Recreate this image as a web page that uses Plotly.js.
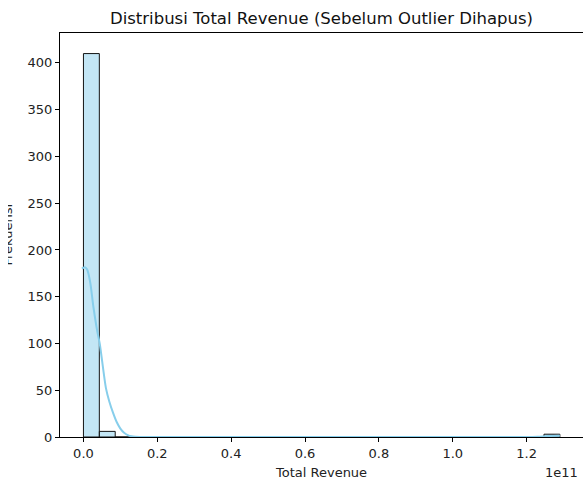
<!DOCTYPE html>
<html>
<head>
<meta charset="utf-8">
<script src="https://cdn.plot.ly/plotly-3.0.1.min.js"></script>
<style>html,body{margin:0;padding:0;background:#fff;}#chart{width:583px;height:481px;}</style>
</head>
<body>
<div id="chart"></div>
<script>
// Values in units of 1e11 (Total Revenue)
const binStart = 0.0;
const binEnd = 1.29;
const binCounts = [410, 6, 0, 0, 0, 0, 0, 0, 0, 0,
                   0, 0, 0, 0, 0, 0, 0, 0, 0, 0,
                   0, 0, 0, 0, 0, 0, 0, 0, 0, 3];
const kdeX = [-0.004, 0.000, 0.004, 0.010, 0.018, 0.027, 0.037, 0.044, 0.049, 0.055, 0.061, 0.070, 0.080, 0.090, 0.100, 0.110, 0.120, 0.130, 0.140, 0.160, 0.200, 0.400, 0.600, 0.800, 1.000, 1.200, 1.230, 1.260, 1.290];
const kdeY = [180, 181, 181.5, 179, 166, 139, 114, 100, 86, 68, 52, 38, 26, 16, 9, 4.5, 2, 0.7, 0.2, 0, 0, 0, 0, 0, 0, 0, 0.3, 1.0, 1.3];
const xTickVals = [0.0, 0.2, 0.4, 0.6, 0.8, 1.0, 1.2];
const xTickText = ["0.0", "0.2", "0.4", "0.6", "0.8", "1.0", "1.2"];
const yTickVals = [0, 50, 100, 150, 200, 250, 300, 350, 400];

const nBins = binCounts.length;
const binW = (binEnd - binStart) / nBins;
const centers = binCounts.map((_, i) => binStart + (i + 0.5) * binW);

const font = "DejaVu Sans, sans-serif";
const traces = [
  {
    type: "bar",
    x: centers,
    y: binCounts,
    width: binCounts.map(() => binW),
    marker: { color: "rgba(135,206,235,0.5)", line: { color: "rgba(20,20,20,1)", width: 1 } },
    hoverinfo: "skip"
  },
  {
    type: "scatter",
    mode: "lines",
    x: kdeX,
    y: kdeY,
    line: { color: "rgb(135,206,235)", width: 2, shape: "spline", smoothing: 0.8 },
    hoverinfo: "skip"
  }
];

const layout = {
  width: 583,
  height: 481,
  margin: { l: 60, r: 0, t: 33, b: 44 },
  paper_bgcolor: "#fff",
  plot_bgcolor: "#fff",
  showlegend: false,
  font: { family: font, color: "#222", size: 13 },
  title: {
    text: "Distribusi Total Revenue (Sebelum Outlier Dihapus)",
    font: { family: font, size: 16.5, color: "#111" },
    x: 0.5, xref: "paper", xanchor: "center",
    y: 1 - 18 / 481, yref: "container", yanchor: "middle"
  },
  xaxis: {
    range: [-0.0635, 1.3527],
    tickvals: xTickVals,
    ticktext: xTickText,
    ticks: "outside", ticklen: 4, tickwidth: 1, tickcolor: "#000",
    showline: true, linecolor: "#000", linewidth: 1, mirror: true,
    showgrid: false, zeroline: false,
    tickfont: { family: font, size: 13, color: "#222" }
  },
  yaxis: {
    range: [0, 432],
    tickvals: yTickVals,
    ticks: "outside", ticklen: 4, tickwidth: 1, tickcolor: "#000",
    showline: true, linecolor: "#000", linewidth: 1, mirror: false,
    showgrid: false, zeroline: false,
    tickfont: { family: font, size: 13, color: "#222" }
  },
  annotations: [
    { text: "Total Revenue", xref: "paper", yref: "paper", x: 0.4985, y: -0.089,
      xanchor: "center", yanchor: "middle", showarrow: false,
      font: { family: font, size: 13, color: "#222" } },
    { text: "1e11", xref: "paper", yref: "paper", x: 0.994, y: -0.089,
      xanchor: "right", yanchor: "middle", showarrow: false,
      font: { family: font, size: 13, color: "#222" } },
    { text: "Frekuensi", xref: "paper", yref: "paper", x: (16 - 60) / 523, y: 0.5,
      xanchor: "right", yanchor: "middle", textangle: -90, showarrow: false,
      font: { family: font, size: 13, color: "#222" } },
    { text: " ", xref: "paper", yref: "paper", x: -60 / 523, y: 0.5,
      xanchor: "left", yanchor: "middle", showarrow: false,
      width: 8, height: 90, bgcolor: "#fff", borderpad: 0, borderwidth: 0,
      font: { family: font, size: 13, color: "#fff" } }
  ]
};

Plotly.newPlot("chart", traces, layout, { displayModeBar: false, staticPlot: true });
</script>
</body>
</html>
